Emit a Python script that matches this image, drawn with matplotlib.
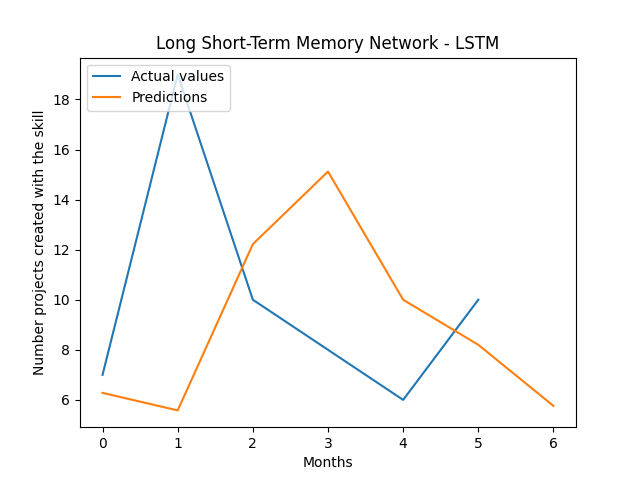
import matplotlib
matplotlib.use("Agg")
import matplotlib.pyplot as plt

months_actual = [0, 1, 2, 3, 4, 5]
actual_values = [7, 19, 10, 8, 6, 10]
months_pred = [0, 1, 2, 3, 4, 5, 6]
predictions = [6.28, 5.58, 12.22, 15.12, 10.0, 8.2, 5.76]

plt.figure(figsize=(6.4, 4.8), dpi=100)
plt.plot(months_actual, actual_values, label="Actual values")
plt.plot(months_pred, predictions, label="Predictions")
plt.title("Long Short-Term Memory Network - LSTM")
plt.xlabel("Months")
plt.ylabel("Number projects created with the skill")
plt.legend(loc="upper left")
plt.savefig("out.png")
